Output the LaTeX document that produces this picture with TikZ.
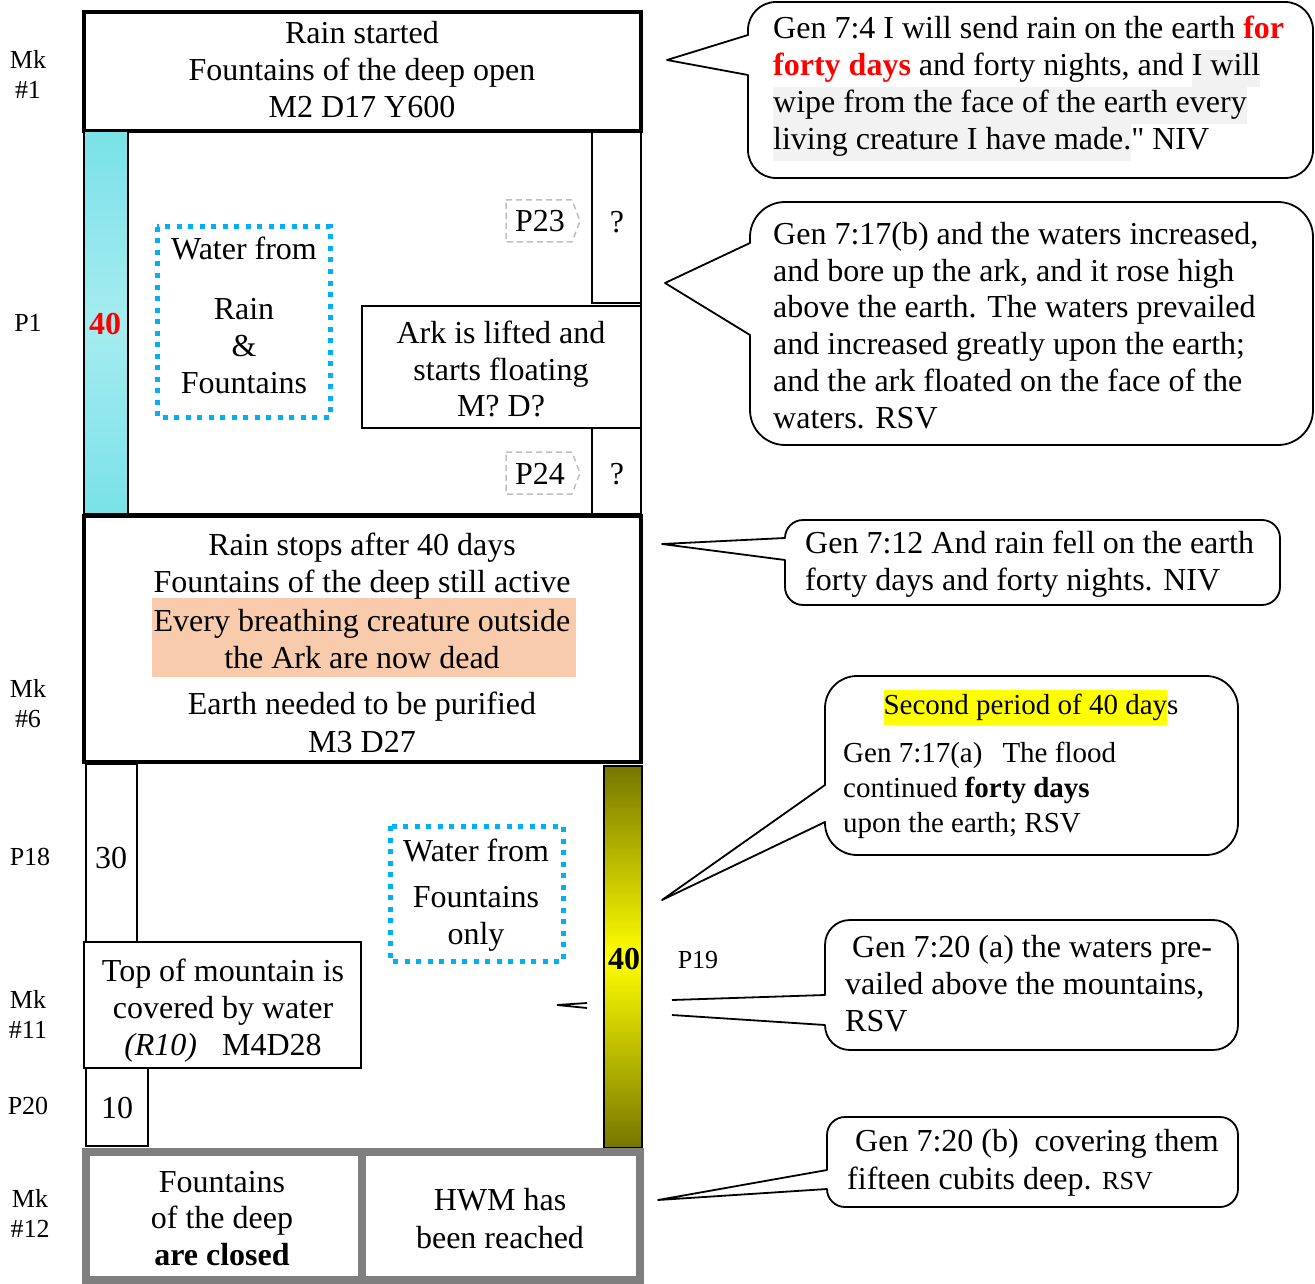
\documentclass[tikz,border=0pt]{standalone}
\usepackage{fontspec}
\setmainfont{Liberation Serif}
\newfontfamily\rawserif{Liberation Serif}[Ligatures=TeXOff]
\definecolor{hlgray}{RGB}{242,242,242}
\definecolor{peach}{RGB}{248,203,173}
\definecolor{skyb}{RGB}{0,176,240}
\definecolor{tagg}{RGB}{191,191,191}
\definecolor{framegray}{RGB}{127,127,127}
\definecolor{cyanA}{RGB}{122,226,232}
\definecolor{cyanB}{RGB}{165,236,240}
\definecolor{oliveA}{RGB}{118,118,0}
\definecolor{yelB}{RGB}{255,255,0}
\definecolor{redt}{RGB}{255,0,0}
\newcommand\bigf{\fontsize{32}{37}\selectfont}
\newcommand\midf{\fontsize{29}{35}\selectfont}
\newcommand\smf{\fontsize{26}{30}\selectfont}
\newcommand\hlg[1]{{\setlength{\fboxsep}{0pt}\colorbox{hlgray}{\strut #1}}}
\newcommand\hly[1]{{\setlength{\fboxsep}{0pt}\colorbox{yelB}{\strut #1}}}
% L R T B r J1 J2 tipx tipy
\newcommand\drawbubble[9]{%
 \draw[bubble] (#1,#7) -- (#1,#4-#5) .. controls (#1,#4-0.448*#5) and (#1+0.448*#5,#4) .. (#1+#5,#4)
 -- (#2-#5,#4) .. controls (#2-0.448*#5,#4) and (#2,#4-0.448*#5) .. (#2,#4-#5)
 -- (#2,#3+#5) .. controls (#2,#3+0.448*#5) and (#2-0.448*#5,#3) .. (#2-#5,#3)
 -- (#1+#5,#3) .. controls (#1+0.448*#5,#3) and (#1,#3+0.448*#5) .. (#1,#3+#5)
 -- (#1,#6) -- (#8,#9) -- cycle;}
\begin{document}
\begin{tikzpicture}[x=1pt,y=-1pt,
  tx/.style={anchor=base, inner sep=0pt, font=\bigf},
  txl/.style={anchor=base west, inner sep=0pt, font=\bigf},
  txm/.style={anchor=base west, inner sep=0pt, font=\midf},
  lab/.style={anchor=base, inner sep=0pt, font=\smf},
  thickbox/.style={draw, line width=3.5pt},
  medbox/.style={draw, line width=2.5pt},
  thinbox/.style={draw, line width=1.5pt},
  dotbox/.style={draw=skyb, line width=5pt, dash pattern=on 5pt off 6.5pt},
  tagbox/.style={draw=tagg, line width=1.5pt, dash pattern=on 6pt off 4pt},
  bubble/.style={draw, line width=1.8pt, line join=round}]
\useasboundingbox (0,0) rectangle (1315,1284);
\fill[white] (0,0) rectangle (1315,1284);

% ---------- left labels ----------
\node[lab] (l1a) at (28,69) {Mk};
\node[lab] (l1b) at (28,99) {\#1};
\node[lab] (l2) at (28,331) {P1};
\node[lab] (l3a) at (28,697) {Mk};
\node[lab] (l3b) at (28,727) {\#6};
\node[lab] (l4) at (30,865) {P18};
\node[lab] (l5a) at (28,1008) {Mk};
\node[lab] (l5b) at (28,1038) {\#11};
\node[lab] (l6) at (28,1114) {P20};
\node[lab] (l7a) at (30,1207) {Mk};
\node[lab] (l7b) at (30,1237) {\#12};

% ---------- top box ----------
\draw[thickbox] (84,12) rectangle (641,131);
\node[tx] (t1a) at (362,44) {Rain started};
\node[tx] (t1b) at (362,81) {Fountains of the deep open};
\node[tx] (t1c) at (362,118) {M2 D17 Y600};

% ---------- P1 region ----------
\draw[medbox] (84,131) rectangle (641,514);
\shade[top color=cyanA, bottom color=cyanA, middle color=cyanB] (85,133) rectangle (128,512);
\draw[line width=1.5pt] (128,131) -- (128,514);
\node[tx, font=\bigf\bfseries, text=redt] (c40) at (105,334) {40};
\draw[medbox] (592,131) rectangle (641,303);
\draw[medbox] (592,428) rectangle (641,514);
\node[tx] (q1) at (617,233) {?};
\node[tx] (q2) at (617,484) {?};
\draw[medbox] (362,306) rectangle (641,428);
\node[tx] (a1) at (501,343) {Ark is lifted and};
\node[tx] (a2) at (501,380) {starts floating};
\node[tx] (a3) at (501,416) {M? D?};
\draw[dotbox] (157,227) rectangle (330,417);
\node[tx] (w1) at (244,260) {Water from};
\node[tx] (w2) at (244,319) {Rain};
\node[tx] (w3) at (244,356) {\&};
\node[tx] (w4) at (244,393) {Fountains};
\draw[tagbox] (506,200) -- (572,200) -- (580,221) -- (572,242) -- (506,242) -- cycle;
\node[tx] (p23) at (540,232) {P23};
\draw[tagbox] (506,452) -- (572,452) -- (580,473) -- (572,494) -- (506,494) -- cycle;
\node[tx] (p24) at (540,484) {P24};

% ---------- Mk6 box ----------
\fill[peach] (152,598) rectangle (576,677);
\draw[thickbox] (84,516) rectangle (641,762);
\node[tx] (m1) at (362,555) {Rain stops after 40 days};
\node[tx] (m2) at (362,592) {Fountains of the deep still active};
\node[tx] (m3) at (362,631) {Every breathing creature outside};
\node[tx] (m4) at (362,668) {the Ark are now dead};
\node[tx] (m5) at (362,714) {Earth needed to be purified};
\node[tx] (m6) at (362,752) {M3 D27};

% ---------- lower region ----------
\draw[thinbox] (86,764) rectangle (137,942);
\node[tx] (n30) at (111,868) {30};
\draw[thinbox] (84,942) rectangle (361,1068);
\node[tx] (tm1) at (223,981) {Top of mountain is};
\node[tx] (tm2) at (223,1018) {covered by water};
\node[tx] (tm3) at (223,1055) {\textit{(R10)}\hspace{25pt}M4D28};
\draw[thinbox] (86,1068) rectangle (148,1146);
\node[tx] (n10) at (117,1118) {10};
\draw[dotbox] (390,826) rectangle (563,961);
\node[tx] (f1) at (476,861) {Water from};
\node[tx] (f2) at (476,907) {Fountains};
\node[tx] (f3) at (476,944) {only};
\shade[top color=oliveA, bottom color=oliveA, middle color=yelB] (604,766) rectangle (642,1148);
\draw[line width=1.5pt] (604,766) rectangle (642,1148);
\node[tx, font=\bigf\bfseries] (o40) at (624,969) {40};
\node[lab] (p19) at (698,968) {P19};
\draw[line width=1.8pt] (587,1003) -- (557,1005) -- (587,1008);

% ---------- bottom frame ----------
\draw[line width=8pt, draw=framegray] (86,1152) rectangle (640,1280);
\draw[line width=8pt, draw=framegray] (362,1152) -- (362,1280);
\node[tx] (b1) at (222,1192) {Fountains};
\node[tx] (b2) at (222,1228) {of the deep};
\node[tx] (b3) at (222,1265) {\textbf{are closed}};
\node[tx] (b4) at (500,1210) {HWM has};
\node[tx] (b5) at (500,1248) {been reached};

% ---------- bubble 1 ----------
\drawbubble{748}{1313}{2}{178}{28}{35}{75}{667}{60}
\node[txl] (g1a) at (773,39) {Gen 7:4 I will send rain on the earth \textcolor{redt}{\textbf{for}}};
\node[txl] (g1b) at (773,76) {\textcolor{redt}{\textbf{forty days}} and forty nights, and \hlg{I will}};
\node[txl] (g1c) at (773,113) {\hlg{wipe from the face of the earth every}};
\node[txl] (g1d) at (773,150) {\hlg{living creature I have made.}{\rawserif"} NIV};

% ---------- bubble 2 ----------
\drawbubble{750}{1313}{202}{445}{35}{243}{335}{665}{283}
\node[txl] (g2a) at (773,244) {Gen 7:17(b) and the waters increased,};
\node[txl] (g2b) at (773,281) {and bore up the ark, and it rose high};
\node[txl] (g2c) at (773,317) {above the earth. The waters prevailed};
\node[txl] (g2d) at (773,354) {and increased greatly upon the earth;};
\node[txl] (g2e) at (773,391) {and the ark floated on the face of the};
\node[txl] (g2f) at (773,428) {waters. RSV};

% ---------- bubble 3 ----------
\drawbubble{785}{1280}{520}{605}{18}{538}{560}{662}{544}
\node[txl] (g3a) at (805,553) {Gen 7:12 And rain fell on the earth};
\node[txl] (g3b) at (805,590) {forty days and forty nights. NIV};

% ---------- bubble 4 ----------
\drawbubble{825}{1238}{676}{855}{32}{785}{822}{662}{900}
\node[tx, font=\midf] (g4t) at (1031,714) {\hly{Second period of 40 day}s};
\node[txm] (g4a) at (843,762) {Gen 7:17(a)\hspace{20pt}The flood};
\node[txm] (g4b) at (843,797) {continued \textbf{forty days}};
\node[txm] (g4c) at (843,832) {upon the earth; RSV};

% ---------- bubble 5 ----------
\draw[bubble] (672,1000) -- (825,995) -- (825,945) .. controls (825,931) and (836,920) .. (850,920)
 -- (1213,920) .. controls (1227,920) and (1238,931) .. (1238,945)
 -- (1238,1025) .. controls (1238,1039) and (1227,1050) .. (1213,1050)
 -- (850,1050) .. controls (836,1050) and (825,1039) .. (825,1025) -- (672,1015);
\node[txl] (g5a) at (852,957) {Gen 7:20 (a) the waters pre-};
\node[txl] (g5b) at (845,994) {vailed above the mountains,};
\node[txl] (g5c) at (845,1031) {RSV};

% ---------- bubble 6 ----------
\drawbubble{827}{1238}{1117}{1207}{18}{1170}{1189}{658}{1200}
\node[txl] (g6a) at (855,1151) {Gen 7:20 (b)\hspace{16pt}covering them};
\node[txl] (g6b) at (847,1189) {fifteen cubits deep. {\smf RSV}};
\end{tikzpicture}
\end{document}
